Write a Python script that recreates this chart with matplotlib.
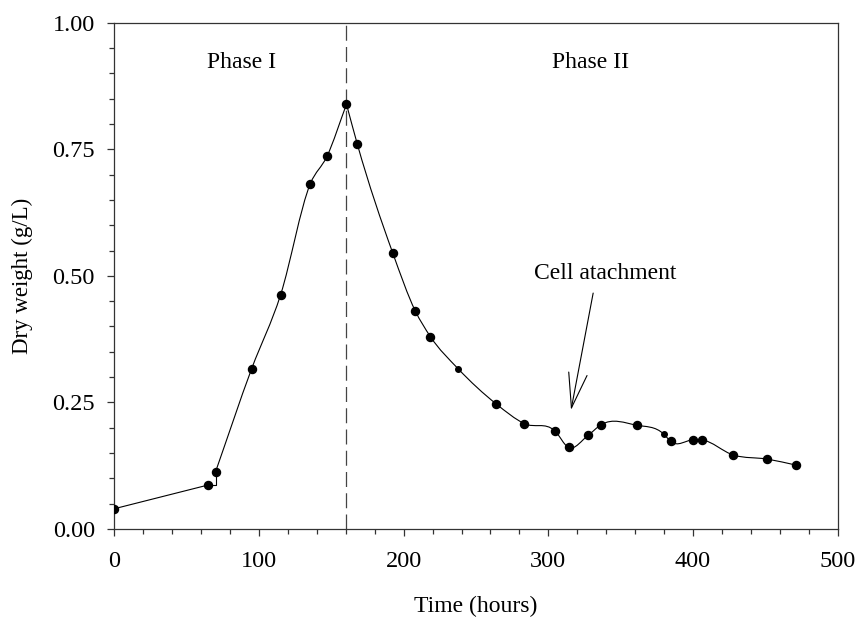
import numpy as np
import matplotlib
matplotlib.use("Agg")
import matplotlib.pyplot as plt
from matplotlib.path import Path
from matplotlib.patches import PathPatch
from matplotlib.ticker import MultipleLocator, FormatStrFormatter

plt.rcParams['font.family'] = ['Liberation Serif', 'DejaVu Serif']

# Dry weight measurements over time
hours = [0, 65, 70, 95, 115, 135.5, 147, 160.5, 168, 192.5, 208, 218.5, 237.5,
         264, 283.5, 304.5, 314, 327.5, 336.5, 361, 380, 384.5, 400, 406, 428,
         451.5, 471.5]
dry_weight = [0.040, 0.087, 0.113, 0.317, 0.463, 0.682, 0.736, 0.839, 0.760,
              0.545, 0.431, 0.380, 0.317, 0.247, 0.208, 0.194, 0.161, 0.185,
              0.206, 0.205, 0.187, 0.173, 0.176, 0.176, 0.146, 0.138, 0.126]

phase_change = 160.5
phase_labels = ["Phase I", "Phase II"]
phase_label_x = [88, 329]
attach_label = "Cell atachment"

hours = np.array(hours, dtype=float)
dry_weight = np.array(dry_weight, dtype=float)
small_pts = [12, 20]   # points drawn with a smaller symbol
i_peak = int(np.argmax(dry_weight))


def spline_path(x, y):
    # piecewise cubic through the points (slopes from the local parabola),
    # written out as Bezier segments
    n = len(x)
    h = np.diff(x)
    d = np.diff(y) / h
    m = np.zeros(n)
    m[0], m[-1] = d[0], d[-1]
    for i in range(1, n - 1):
        m[i] = (d[i - 1] * h[i] + d[i] * h[i - 1]) / (h[i - 1] + h[i])

    verts = [(x[0], y[0])]
    codes = [Path.MOVETO]
    for i in range(n - 1):
        verts += [(x[i] + h[i] / 3, y[i] + m[i] * h[i] / 3),
                  (x[i + 1] - h[i] / 3, y[i + 1] - m[i + 1] * h[i] / 3),
                  (x[i + 1], y[i + 1])]
        codes += [Path.CURVE4] * 3
    return Path(verts, codes)


fig = plt.figure(figsize=(8.58, 6.19), dpi=100)
ax = fig.add_axes([0.1332, 0.1454, 0.8431, 0.8179])

# first part: straight line, then a step at 70 h
ax.plot(hours[:2], dry_weight[:2], color='black', lw=0.8)
ax.plot(hours[1:3], dry_weight[1:3], color='black', lw=0.8, drawstyle='steps-post')
# smooth curves for the rest of phase I and for phase II
for sl in (slice(2, i_peak + 1), slice(i_peak, None)):
    ax.add_patch(PathPatch(spline_path(hours[sl], dry_weight[sl]),
                           facecolor='none', edgecolor='black', lw=0.8))

big = [i for i in range(len(hours)) if i not in small_pts]
ax.plot(hours[big], dry_weight[big], 'o', color='black', ms=5.8, zorder=3)
ax.plot(hours[small_pts], dry_weight[small_pts], 'o', color='black', ms=4.0, zorder=3)

ax.axvline(phase_change, color='#444444', lw=0.9, dashes=(12, 5))

for lbl, px in zip(phase_labels, phase_label_x):
    ax.text(px, 0.910, lbl, ha='center', va='baseline', fontsize=17)

ax.text(339, 0.493, attach_label, ha='center', va='baseline', fontsize=17)
ax.annotate('', xy=(315.7, 0.235), xytext=(331, 0.466),
            arrowprops=dict(arrowstyle='->,head_length=25,head_width=6.7',
                            mutation_scale=1, lw=0.8, color='black',
                            shrinkA=0, shrinkB=0))

ax.set_xlim(0, 500)
ax.set_ylim(0, 1.0)
ax.xaxis.set_major_locator(MultipleLocator(100))
ax.xaxis.set_minor_locator(MultipleLocator(20))
ax.yaxis.set_major_locator(MultipleLocator(0.25))
ax.yaxis.set_minor_locator(MultipleLocator(0.05))
ax.yaxis.set_major_formatter(FormatStrFormatter('%.2f'))
ax.tick_params(which='both', direction='out', top=False, right=False,
               labelsize=17.5, color='#333333')
ax.tick_params(axis='x', pad=11)
ax.tick_params(axis='y', pad=9)
ax.tick_params(which='major', length=5, width=0.9)
ax.tick_params(which='minor', length=3.3, width=0.9)
for s in ax.spines.values():
    s.set_color('#333333')
    s.set_linewidth(0.9)

ax.set_xlabel('Time (hours)', fontsize=17, va='baseline')
ax.xaxis.set_label_coords(0.5, -0.164)
ax.set_ylabel('Dry weight (g/L)', fontsize=16.5, va='center')
ax.yaxis.set_label_coords(-0.1276, 0.5)

fig.savefig('out.png', dpi=100)
